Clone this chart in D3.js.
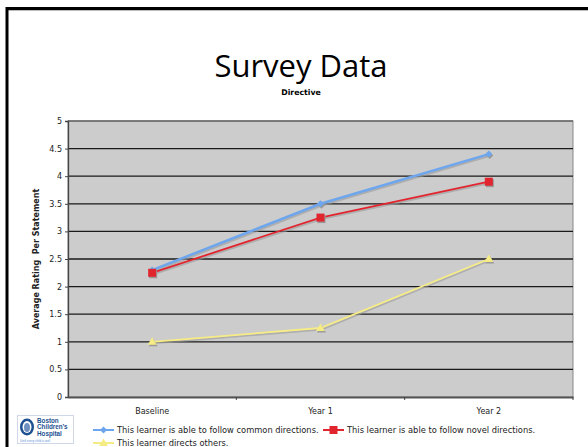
<!DOCTYPE html>
<html>
<head>
<meta charset="utf-8">
<script src="https://cdn.jsdelivr.net/npm/d3@7.9.0/dist/d3.min.js"></script>
<style>
  body { margin: 0; background: #fff; }
  svg { display: block; }
</style>
</head>
<body>
<svg id="chart" width="588" height="447"></svg>
<script>
// chart data
const categories = ['Baseline', 'Year 1', 'Year 2'];
const seriesNames = [
    'This learner is able to follow common directions.',
    'This learner is able to follow novel directions.',
    'This learner directs others.'
];
const commonDirections = [2.3, 3.5, 4.4];
const novelDirections = [2.25, 3.25, 3.9];
const directsOthers = [1.0, 1.25, 2.5];
const yTicks = [0, 0.5, 1, 1.5, 2, 2.5, 3, 3.5, 4, 4.5, 5];

const series = [
    { name: seriesNames[0], values: commonDirections, color: '#6ea6ee', width: 2.5, marker: 'diamond' },
    { name: seriesNames[1], values: novelDirections, color: '#e1252f', width: 1.8, marker: 'square' },
    { name: seriesNames[2], values: directsOthers, color: '#f6ec86', width: 1.8, marker: 'triangle' }
];

const font = 'DejaVu Sans, Verdana, sans-serif';
const svg = d3.select('#chart');
const plot = { left: 68, right: 573, top: 121, bottom: 397 };

// slide frame
svg.append('line').attr('x1', 7).attr('x2', 588).attr('y1', 8.5).attr('y2', 8.5)
    .attr('stroke', '#000').attr('stroke-width', 3);
svg.append('line').attr('x1', 8).attr('x2', 588).attr('y1', 10.5).attr('y2', 10.5)
    .attr('stroke', '#bbb').attr('stroke-width', 1);
svg.append('line').attr('x1', 7).attr('x2', 7).attr('y1', 7).attr('y2', 447)
    .attr('stroke', '#000').attr('stroke-width', 3);

// titles
svg.append('text').attr('x', 301).attr('y', 77).attr('text-anchor', 'middle')
    .attr('font-family', 'Open Sans, Noto Sans, sans-serif').attr('font-size', 31)
    .text('Survey Data');
svg.append('text').attr('x', 301).attr('y', 95).attr('text-anchor', 'middle')
    .attr('font-family', font).attr('font-size', 7.8)
    .attr('font-weight', 'bold').text('Directive');

const x = d3.scaleBand().domain(categories).range([plot.left, plot.right]);
const y = d3.scaleLinear().domain([0, 5]).range([plot.bottom, plot.top]);

// plot background
svg.append('rect').attr('x', plot.left).attr('y', plot.top)
    .attr('width', plot.right - plot.left).attr('height', plot.bottom - plot.top)
    .attr('fill', '#cccccc').attr('stroke', '#888').attr('stroke-width', 1);

// gridlines
svg.append('g').selectAll('line').data(yTicks.filter(d => d > 0 && d < 5)).join('line')
    .attr('x1', plot.left).attr('x2', plot.right)
    .attr('y1', d => y(d)).attr('y2', d => y(d))
    .attr('stroke', '#1a1a1a').attr('stroke-width', 1.3);
svg.append('line').attr('x1', plot.left).attr('x2', plot.right)
    .attr('y1', plot.top).attr('y2', plot.top).attr('stroke', '#666').attr('stroke-width', 1.3);

// y axis
const yAxis = svg.append('g').attr('transform', `translate(${plot.left},0)`)
    .call(d3.axisLeft(y).tickValues(yTicks).tickFormat(d => String(d)).tickSize(3).tickPadding(3));
yAxis.select('.domain').attr('stroke', '#444').attr('stroke-width', 1.3);
yAxis.selectAll('.tick line').attr('stroke', '#444');
yAxis.selectAll('text').attr('font-family', font)
    .attr('font-size', 8).attr('fill', '#222');

// x axis
const xAxis = svg.append('g').attr('transform', `translate(0,${plot.bottom})`)
    .call(d3.axisBottom(x).tickSize(0).tickPadding(11));
xAxis.select('.domain').attr('stroke', '#555').attr('stroke-width', 2);
xAxis.selectAll('text').attr('font-family', font)
    .attr('font-size', 8).attr('fill', '#222');
svg.append('g').selectAll('line').data(categories).join('line')
    .attr('x1', d => x(d) + x.bandwidth()).attr('x2', d => x(d) + x.bandwidth())
    .attr('y1', plot.bottom).attr('y2', plot.bottom + 3)
    .attr('stroke', '#444');

// y axis title
svg.append('text').attr('transform', 'translate(39,259) rotate(-90)')
    .attr('text-anchor', 'middle').attr('font-family', font)
    .attr('font-size', 8).attr('font-weight', 'bold').attr('fill', '#222')
    .attr('xml:space', 'preserve').text('Average Rating  Per Statement');

// markers
function drawMarker(g, type, cx, cy, color) {
    if (type === 'square') {
        g.append('rect').attr('x', cx - 4).attr('y', cy - 4).attr('width', 8).attr('height', 8).attr('fill', color);
    } else if (type === 'diamond') {
        g.append('path').attr('d', `M${cx},${cy - 3.5}L${cx + 3.5},${cy}L${cx},${cy + 3.5}L${cx - 3.5},${cy}Z`).attr('fill', color);
    } else {
        g.append('path').attr('d', `M${cx},${cy - 4.5}L${cx + 4.5},${cy + 3}L${cx - 4.5},${cy + 3}Z`).attr('fill', color);
    }
}

const line = d3.line().x((d, i) => x(categories[i]) + x.bandwidth() / 2).y(d => y(d));
const lines = svg.append('g');
series.forEach(s => {
    // soft shadow
    lines.append('path').attr('d', line(s.values)).attr('fill', 'none')
        .attr('stroke', '#999').attr('stroke-width', s.width).attr('opacity', 0.6)
        .attr('transform', 'translate(1,1.5)');
});
series.forEach(s => {
    lines.append('path').attr('d', line(s.values)).attr('fill', 'none')
        .attr('stroke', s.color).attr('stroke-width', s.width);
    s.values.forEach((v, i) => {
        const cx = x(categories[i]) + x.bandwidth() / 2;
        drawMarker(lines, s.marker, cx + 1, y(v) + 1.5, '#999');
        drawMarker(lines, s.marker, cx, y(v), s.color);
    });
});

// legend
const legendPos = [[93, 430], [323, 430], [93, 443]];
series.forEach((s, i) => {
    const [lx, ly] = legendPos[i];
    const g = svg.append('g');
    g.append('line').attr('x1', lx).attr('x2', lx + 21).attr('y1', ly).attr('y2', ly)
        .attr('stroke', s.color).attr('stroke-width', 2);
    drawMarker(g, s.marker, lx + 10.5, ly, s.color);
    g.append('text').attr('x', lx + 24).attr('y', ly + 3)
        .attr('font-family', font).attr('font-size', 8.3)
        .attr('fill', '#222').text(s.name);
});

// hospital logo
const logo = svg.append('g');
logo.append('rect').attr('x', 17.5).attr('y', 415.5).attr('width', 56).attr('height', 28)
    .attr('fill', '#fff').attr('stroke', '#cfd8e8');
logo.append('ellipse').attr('cx', 27).attr('cy', 427).attr('rx', 7).attr('ry', 8.5)
    .attr('fill', '#1d4f91');
logo.append('ellipse').attr('cx', 27).attr('cy', 427).attr('rx', 4.5).attr('ry', 6)
    .attr('fill', '#fff');
logo.append('ellipse').attr('cx', 27).attr('cy', 427.5).attr('rx', 3).attr('ry', 4.5)
    .attr('fill', '#6f8fc0');
['Boston', 'Children\u2019s', 'Hospital'].forEach((t, i) => {
    logo.append('text').attr('x', 37).attr('y', 423 + i * 6.3)
        .attr('font-family', 'Liberation Sans, Arial, sans-serif').attr('font-size', 6.3)
        .attr('font-weight', 'bold').attr('fill', '#1d4f91').text(t);
});
logo.append('text').attr('x', 20).attr('y', 442).attr('font-family', 'Liberation Sans, Arial, sans-serif')
    .attr('font-size', 3).attr('fill', '#5b8fd6').text('Until every child is well');
</script>
</body>
</html>
